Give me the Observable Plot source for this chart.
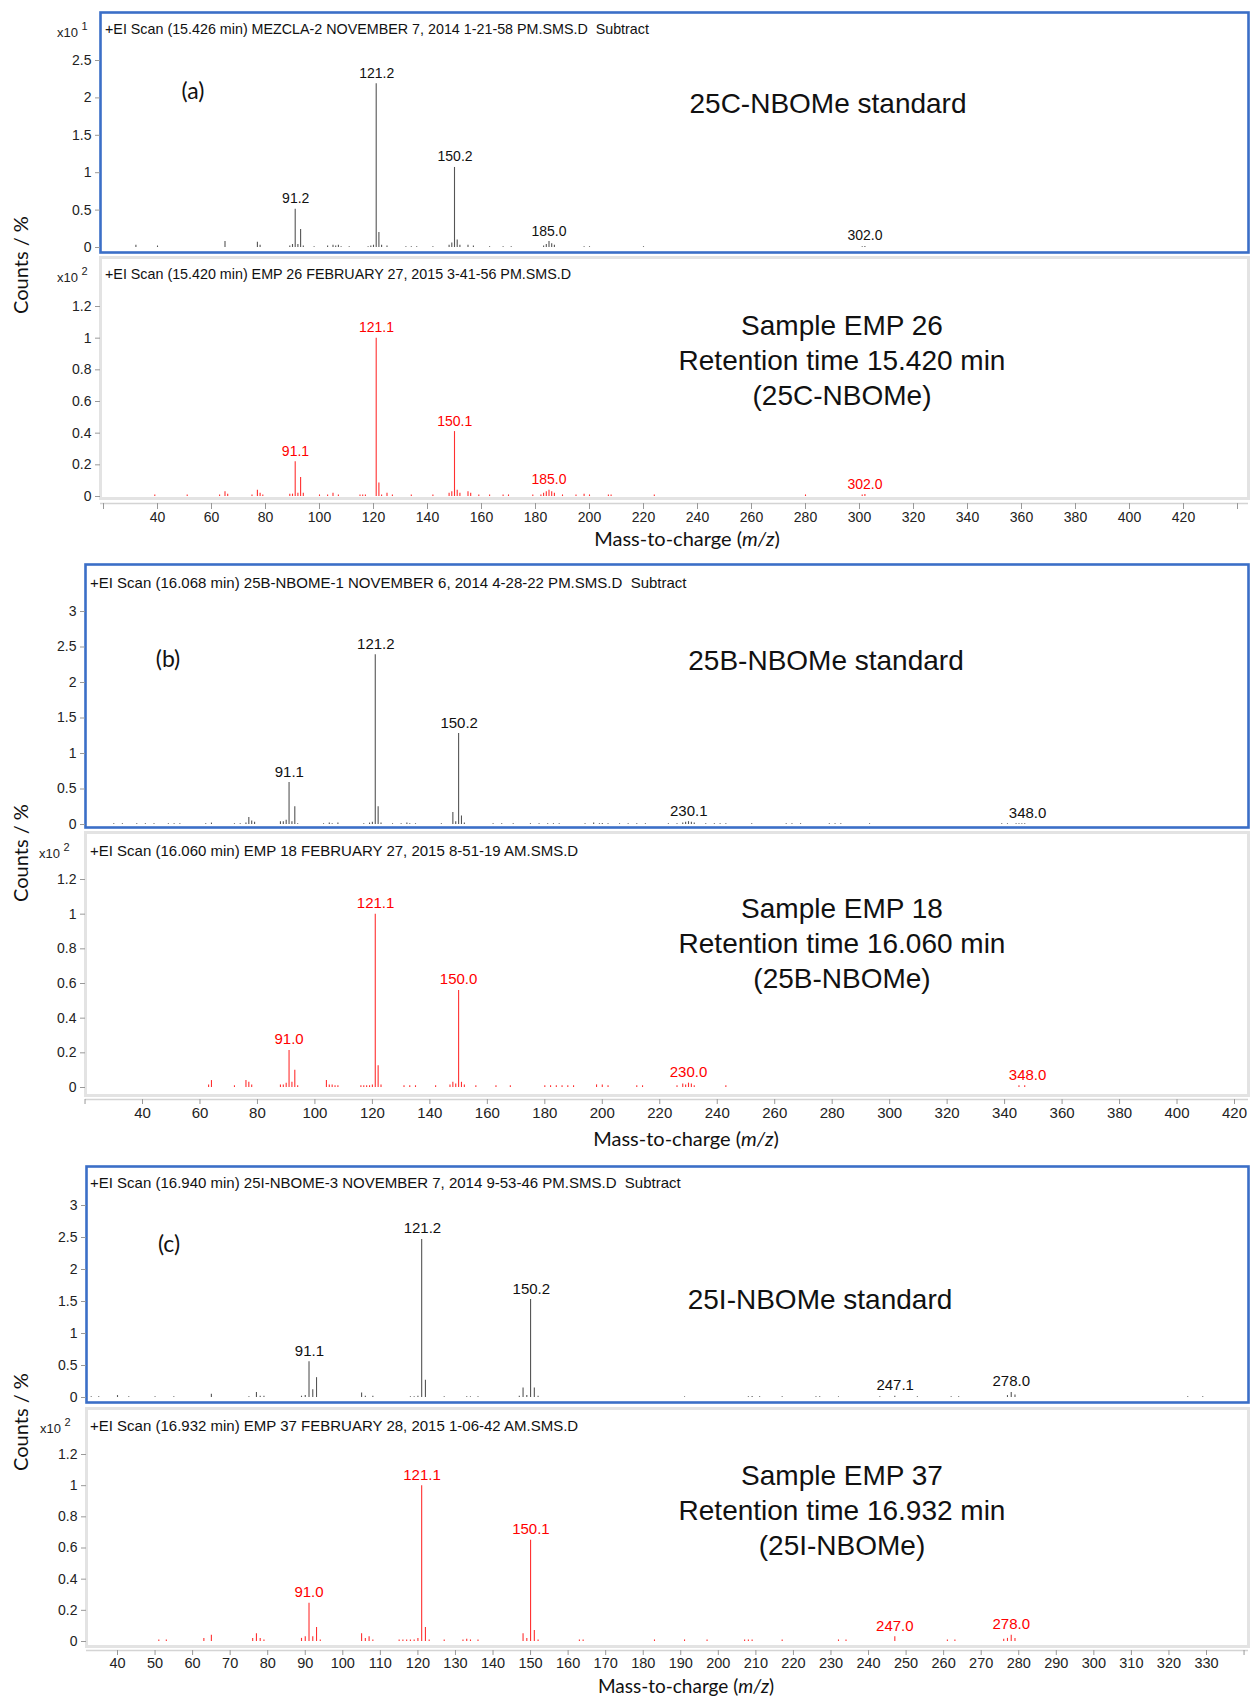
<!DOCTYPE html>
<html><head><meta charset="utf-8">
<script src="https://cdn.jsdelivr.net/npm/d3@7"></script>
<script src="https://cdn.jsdelivr.net/npm/@observablehq/plot@0.6"></script>
<style>
body{margin:0;background:#fff;}
#root{position:relative;width:1251px;height:1697px;overflow:hidden;font-family:"Liberation Sans",Arial,sans-serif;color:#111;}
#root svg{position:absolute;left:0;overflow:visible;}
.abs{position:absolute;white-space:nowrap;line-height:1;}
.hdr{font-size:14.3px;color:#111;}
.hdr2{font-size:15px;color:#111;}
.big{font-size:28px;text-align:center;transform:translate(-50%,-50%);line-height:35px;color:#111;}
.let{font-family:Lato,"Open Sans",sans-serif;font-size:23px;transform:translate(-50%,-50%);}
.ylab{font-family:Lato,"Open Sans",sans-serif;font-size:20px;transform:translate(-50%,-50%) rotate(-90deg);}
.xlab{font-family:Lato,"Open Sans",sans-serif;font-size:20px;transform:translate(-50%,-50%);}
.mult{font-size:13px;color:#222;}
.mult sup{font-size:11px;position:relative;top:-2px;}
</style></head><body><div id="root"></div>
<script>
// ---------------- DATA ----------------
// (a) 25C-NBOMe standard, counts x10^1
const aStdMz  = [32,40,65,77,78,89,90,91,92,93,94,98,103,105,106,107,108,111,118,119,120,121,122,123,125,132,134,136,142,148,149,150,151,152,155,157,163,168,171,183,184,185,186,187,198,200,220,301,302];
const aStdInt = [0.03,0.02,0.08,0.07,0.03,0.02,0.04,0.51,0.04,0.24,0.02,0.01,0.02,0.03,0.02,0.03,0.01,0.01,0.01,0.02,0.03,2.19,0.2,0.03,0.02,0.01,0.01,0.01,0.01,0.03,0.06,1.07,0.1,0.03,0.03,0.02,0.01,0.01,0.01,0.02,0.04,0.08,0.05,0.03,0.01,0.01,0.01,0.01,0.015];
const aStdLabels = ["91.2","121.2","150.2","185.0","302.0"];
// (a) Sample EMP 26, counts x10^2
const aSmpMz  = [39,51,63,65,66,75,77,78,79,89,90,91,92,93,94,100,103,105,107,115,116,117,121,122,123,125,127,134,142,148,149,150,151,152,155,156,159,163,168,170,179,182,183,184,185,186,187,190,195,198,200,207,208,224,280,301,302];
const aSmpInt = [0.01,0.01,0.01,0.03,0.015,0.01,0.04,0.02,0.01,0.015,0.015,0.22,0.02,0.12,0.02,0.01,0.01,0.02,0.01,0.01,0.01,0.01,1.0,0.085,0.01,0.02,0.01,0.01,0.01,0.02,0.03,0.41,0.04,0.02,0.03,0.02,0.01,0.01,0.01,0.01,0.01,0.01,0.02,0.03,0.04,0.03,0.02,0.01,0.01,0.015,0.01,0.01,0.01,0.01,0.01,0.01,0.012];
const aSmpLabels = ["91.1","121.1","150.1","185.0","302.0"];
// (b) 25B-NBOMe standard
const bStdMz  = [30,33,38,41,44,49,51,53,62,64,72,74,76,77,78,79,88,89,90,91,92,93,94,103,105,106,108,117,119,120,121,122,123,127,130,132,133,135,144,148,149,150,151,152,162,165,169,175,178,181,183,185,194,197,199,200,202,206,209,212,215,223,226,228,229,230,231,232,236,239,241,243,252,264,266,269,279,281,283,293,339,341,344,345,346,347];
const bStdInt = [0.01,0.01,0.01,0.01,0.01,0.01,0.01,0.01,0.01,0.02,0.01,0.01,0.02,0.1,0.05,0.03,0.04,0.04,0.06,0.59,0.04,0.25,0.01,0.01,0.02,0.01,0.02,0.01,0.02,0.03,2.39,0.25,0.02,0.01,0.01,0.02,0.01,0.01,0.01,0.17,0.04,1.28,0.12,0.02,0.01,0.01,0.01,0.01,0.01,0.01,0.01,0.01,0.01,0.02,0.01,0.015,0.01,0.01,0.01,0.01,0.01,0.01,0.01,0.02,0.03,0.04,0.03,0.02,0.01,0.01,0.01,0.01,0.01,0.01,0.01,0.01,0.01,0.01,0.01,0.01,0.01,0.01,0.01,0.01,0.01,0.01];
const bStdLabels = ["91.1","121.2","150.2","230.1","348.0"];
// (b) Sample EMP 18
const bSmpMz  = [63,64,72,76,77,78,88,89,90,91,92,93,94,104,105,106,107,108,116,117,118,119,120,121,122,123,131,133,135,142,147,148,149,150,151,152,156,163,168,180,182,184,186,188,190,198,200,202,212,214,226,228,229,230,231,232,243,345,347];
const bSmpInt = [0.015,0.04,0.01,0.04,0.03,0.015,0.015,0.015,0.025,0.214,0.03,0.1,0.01,0.04,0.015,0.015,0.01,0.01,0.01,0.01,0.01,0.01,0.015,1.0,0.125,0.015,0.01,0.01,0.01,0.01,0.015,0.03,0.02,0.56,0.03,0.015,0.01,0.01,0.01,0.01,0.01,0.01,0.01,0.01,0.01,0.015,0.015,0.01,0.01,0.01,0.01,0.02,0.015,0.025,0.02,0.01,0.01,0.01,0.01];
const bSmpLabels = ["91.0","121.1","150.0","230.0","348.0"];
// (c) 25I-NBOMe standard
const cStdMz  = [33,35,40,43,50,55,65,75,77,78,79,89,90,91,92,93,105,106,108,118,119,120,121,122,127,133,134,136,147,148,149,150,151,152,191,208,209,211,217,226,227,232,243,247,253,262,264,277,278,279,325,329];
const cStdInt = [0.01,0.01,0.03,0.01,0.01,0.01,0.05,0.01,0.08,0.02,0.02,0.02,0.03,0.56,0.12,0.31,0.07,0.02,0.02,0.01,0.01,0.02,2.47,0.27,0.01,0.01,0.01,0.01,0.02,0.15,0.03,1.53,0.15,0.02,0.01,0.01,0.015,0.01,0.01,0.01,0.01,0.01,0.01,0.02,0.01,0.01,0.01,0.03,0.08,0.04,0.01,0.01];
const cStdLabels = ["91.1","121.2","150.2","247.1","278.0"];
// (c) Sample EMP 37
const cSmpMz  = [51,53,63,65,76,77,78,79,89,90,91,92,93,94,105,106,107,108,115,116,117,118,119,120,121,122,123,127,132,133,134,136,148,149,150,151,152,163,164,183,191,197,207,208,209,217,232,234,247,261,263,276,277,278,279];
const cSmpInt = [0.01,0.01,0.02,0.04,0.02,0.05,0.02,0.01,0.02,0.03,0.245,0.03,0.09,0.01,0.05,0.02,0.03,0.01,0.01,0.01,0.01,0.01,0.01,0.02,1.0,0.09,0.01,0.01,0.01,0.015,0.01,0.01,0.05,0.02,0.65,0.07,0.01,0.01,0.01,0.01,0.01,0.01,0.01,0.01,0.01,0.01,0.01,0.01,0.03,0.01,0.01,0.015,0.02,0.04,0.02];
const cSmpLabels = ["91.0","121.1","150.1","247.0","278.0"];

// tick values
const yTicksStdA = [0,0.5,1,1.5,2,2.5];
const yTicksStdBC = [0,0.5,1,1.5,2,2.5,3];
const yTicksSmp = [0,0.2,0.4,0.6,0.8,1,1.2];
const xTicksAB = d3.range(20,441,20);
const xTicksC = d3.range(40,341,10);

// ---------------- LAYOUT ----------------
const W = 1251;
const root = document.getElementById("root");
const BLUE = "#3b6fc7", GRAYB = "#e3e3e3";

function panel(p){
  const data = p.mz.map((m,i)=>({mz:m, v:p.iv[i]}));
  const lab = p.labels.map(t=>{
    const m = +t;
    const near = data.filter(d=>Math.abs(d.mz-m)<=2.5);
    return {mz:m, v:d3.max(near,d=>d.v) ?? 0, t};
  });
  const std = p.kind==="std";
  const plotBottom = p.axisLine ?? p.fb;
  const marks = [
    Plot.frame({stroke: std?BLUE:GRAYB, strokeWidth: std?2.6:3, insetBottom: plotBottom - p.fb}),
    Plot.axisY({ticks:p.yTicks, tickSize:5, tickPadding:4, stroke:"#999", fill:"#222", label:null,
      tickFormat:d=>String(+d.toFixed(2))}),
    Plot.ruleX(data,{x:"mz", y:"v", stroke: std?"#555":"#ff3030", strokeWidth:1.1}),
    Plot.text(lab,{x:"mz", y:"v", text:"t", dy:-6, lineAnchor:"bottom", fill: std?"#111":"#ff0000", fontSize:p.labelSize ?? 14})
  ];
  if (p.axisLine){
    marks.push(Plot.ruleY([0],{dy: p.axisLine - p.zero, stroke:"#d4d4d4", strokeWidth:1.5}));
    marks.push(Plot.axisX({ticks:p.xTicks, tickSize:p.tickSize ?? 6, tickPadding:p.tickPad ?? 3, stroke:"#999", fill:"#222", label:null,
      fontSize:p.xTickFont ?? 14, tickFormat:d=> p.xLabeled(d) ? String(d) : ""}));
  }
  const chart = Plot.plot({
    width: W, height: p.sb - p.st,
    marginLeft: p.fl, marginRight: W - p.fr,
    marginTop: p.ft - p.st, marginBottom: p.sb - plotBottom,
    x: {domain:[p.xm[0], p.xm[2]], range:[p.xm[1], p.xm[3]], label:null, axis: p.axisLine ? undefined : null},
    y: {domain:[0, p.ym[1]], range:[p.zero - p.st, p.ym[2] - p.st], label:null},
    style: {fontFamily:'"Liberation Sans",Arial,sans-serif', fontSize:"14px", background:"transparent", overflow:"visible", color:"#222"},
    marks
  });
  chart.style.top = p.st + "px";
  root.appendChild(chart);
}

function div(cls, x, y, html, extra){
  const d = document.createElement("div");
  d.className = "abs " + cls;
  d.style.left = x + "px"; d.style.top = y + "px";
  d.innerHTML = html;
  if (extra) Object.assign(d.style, extra);
  root.appendChild(d);
  return d;
}

const xmA = [40,157,420,1183];
const xmB = [40,142,420,1234];
const xmC = [40,117,330,1206];
const labAB = d => d>=40 && d<=420;
const labC = d => d<=330;

panel({kind:"std", st:8, sb:256, fl:100, fr:1248, ft:12, fb:252, zero:247, ym:[0,2.5,60], xm:xmA, yTicks:yTicksStdA, mz:aStdMz, iv:aStdInt, labels:aStdLabels});
panel({kind:"smp", st:253, sb:530, fl:100, fr:1248, ft:257, fb:498, axisLine:503, zero:496, ym:[0,1.2,306], xm:xmA, yTicks:yTicksSmp, xTicks:xTicksAB, xLabeled:labAB, mz:aSmpMz, iv:aSmpInt, labels:aSmpLabels});
panel({kind:"std", st:560, sb:831, fl:85, fr:1248, ft:564, fb:827, zero:824, ym:[0,3,611], xm:xmB, yTicks:yTicksStdBC, labelSize:15, mz:bStdMz, iv:bStdInt, labels:bStdLabels});
panel({kind:"smp", st:828, sb:1126, fl:85, fr:1248, ft:832, fb:1095, axisLine:1099, zero:1087, ym:[0,1.2,879], xm:xmB, yTicks:yTicksSmp, xTicks:xTicksAB, xLabeled:labAB, labelSize:15, xTickFont:15, tickSize:5, mz:bSmpMz, iv:bSmpInt, labels:bSmpLabels});
panel({kind:"std", st:1162, sb:1406, fl:86, fr:1248, ft:1166, fb:1402, zero:1397, ym:[0,3,1205], xm:xmC, yTicks:yTicksStdBC, labelSize:15, mz:cStdMz, iv:cStdInt, labels:cStdLabels});
panel({kind:"smp", st:1404, sb:1674, fl:86, fr:1248, ft:1408, fb:1646, axisLine:1650, zero:1641, ym:[0,1.2,1454], xm:xmC, yTicks:yTicksSmp, xTicks:xTicksC, xLabeled:labC, labelSize:15, xTickFont:14.5, tickSize:5, tickPad:2, mz:cSmpMz, iv:cSmpInt, labels:cSmpLabels});

// headers
div("hdr",105,22,"+EI Scan (15.426 min) MEZCLA-2 NOVEMBER 7, 2014 1-21-58 PM.SMS.D&nbsp;&nbsp;Subtract");
div("hdr",105,267,"+EI Scan (15.420 min) EMP 26 FEBRUARY 27, 2015 3-41-56 PM.SMS.D");
div("hdr2",90,575,"+EI Scan (16.068 min) 25B-NBOME-1 NOVEMBER 6, 2014 4-28-22 PM.SMS.D&nbsp;&nbsp;Subtract");
div("hdr2",90,843,"+EI Scan (16.060 min) EMP 18 FEBRUARY 27, 2015 8-51-19 AM.SMS.D");
div("hdr2",90,1175,"+EI Scan (16.940 min) 25I-NBOME-3 NOVEMBER 7, 2014 9-53-46 PM.SMS.D&nbsp;&nbsp;Subtract");
div("hdr2",90,1418,"+EI Scan (16.932 min) EMP 37 FEBRUARY 28, 2015 1-06-42 AM.SMS.D");

// multipliers
div("mult",57,23,"x10 <sup>1</sup>");
div("mult",57,268,"x10 <sup>2</sup>");
div("mult",39,844,"x10 <sup>2</sup>");
div("mult",40,1419,"x10 <sup>2</sup>");

// panel letters
div("let",193,90,"(a)");
div("let",168,658,"(b)");
div("let",169,1243,"(c)");

// big annotations
div("big",828,103,"25C-NBOMe standard");
div("big",842,360,"Sample EMP 26<br>Retention time 15.420 min<br>(25C-NBOMe)");
div("big",826,660,"25B-NBOMe standard");
div("big",842,943,"Sample EMP 18<br>Retention time 16.060 min<br>(25B-NBOMe)");
div("big",820,1299,"25I-NBOMe standard");
div("big",842,1510,"Sample EMP 37<br>Retention time 16.932 min<br>(25I-NBOMe)");

// axis titles
div("ylab",20,265,"Counts / %");
div("ylab",20,853,"Counts / %");
div("ylab",20,1422,"Counts / %");
div("xlab",687,538,"Mass-to-charge (<i>m/z</i>)");
div("xlab",686,1138,"Mass-to-charge (<i>m/z</i>)");
div("xlab",686,1685,"Mass-to-charge (<i>m/z</i>)",{fontSize:"19px"});
</script>
</body></html>
